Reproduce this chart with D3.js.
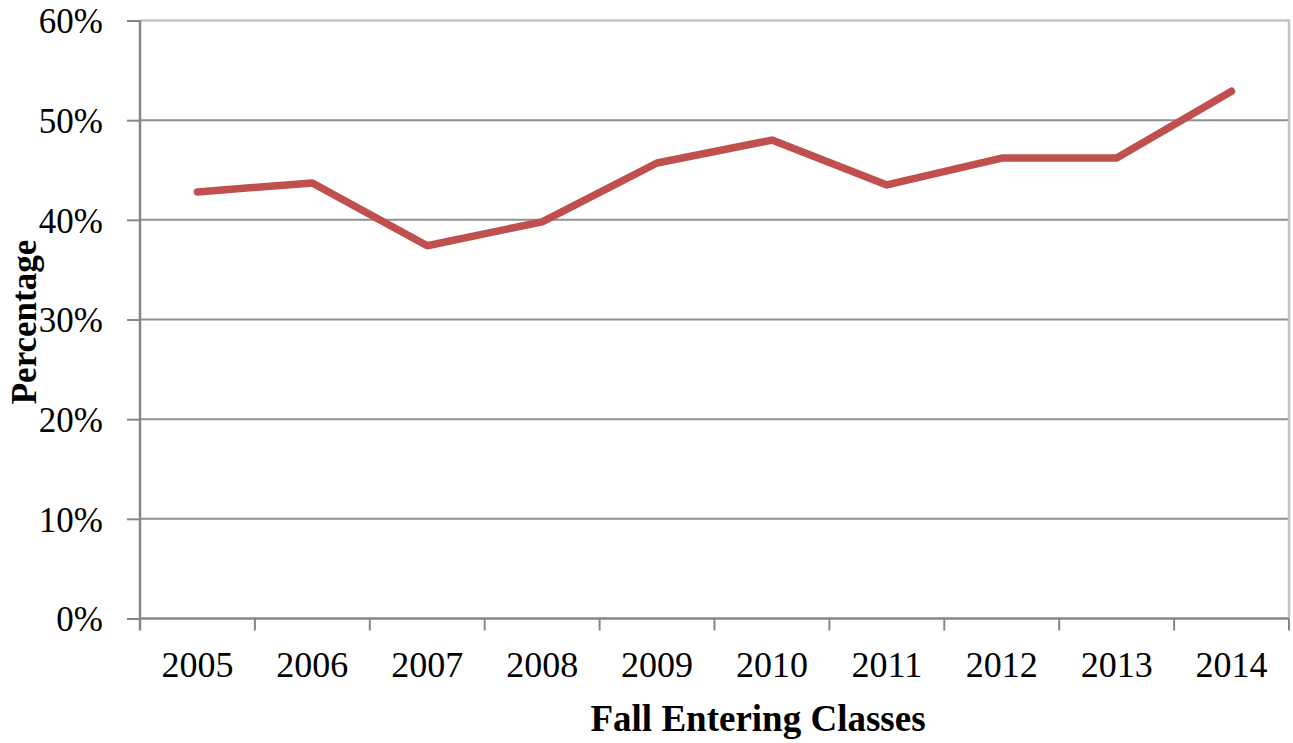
<!DOCTYPE html>
<html>
<head>
<meta charset="utf-8">
<script src="https://cdn.jsdelivr.net/npm/d3@7"></script>
<style>
  body { margin: 0; background: #fff; }
  svg text { font-family: "Liberation Serif", "Times New Roman", serif; fill: #000; }
</style>
</head>
<body>
<div id="chart"></div>
<script>
// data
var years = ["2005", "2006", "2007", "2008", "2009", "2010", "2011", "2012", "2013", "2014"];
var pct = [42.8, 43.7, 37.4, 39.8, 45.7, 48.0, 43.5, 46.2, 46.2, 52.9];
var yTicks = [0, 10, 20, 30, 40, 50, 60];

var canvas_width = 1293, canvas_height = 743;
var plotLeft = 140, plotRight = 1289, plotTop = 20.5, plotBottom = 618.5;

var svg = d3.select("#chart")
    .append("svg")
    .attr("width", canvas_width)
    .attr("height", canvas_height);

var x = d3.scaleBand().domain(years).range([plotLeft, plotRight]);
var y = d3.scaleLinear().domain([0, 60]).range([plotBottom, plotTop]);

// gridlines
svg.append("g")
    .selectAll("line")
    .data(yTicks.filter(function(d) { return d > 0 && d < 60; }))
    .enter().append("line")
        .attr("x1", plotLeft).attr("x2", plotRight)
        .attr("y1", function(d) { return y(d); })
        .attr("y2", function(d) { return y(d); })
        .attr("stroke", "#8f8f8f")
        .attr("stroke-width", 2);

// plot border (top + right), lighter
svg.append("path")
    .attr("d", "M" + plotLeft + "," + y(60) + "H" + plotRight + "V" + plotBottom)
    .attr("fill", "none")
    .attr("stroke", "#c4c4c4")
    .attr("stroke-width", 2.5);

// y axis
var yAxis = svg.append("g")
    .attr("transform", "translate(" + plotLeft + ",0)")
    .call(d3.axisLeft(y).tickValues(yTicks).tickSize(13).tickPadding(24)
        .tickFormat(function(d) { return d + "%"; }));
yAxis.select(".domain").remove();
yAxis.selectAll(".tick line").attr("stroke", "#868686").attr("stroke-width", 2);
yAxis.selectAll("text")
    .attr("font-size", "35px")
    .attr("dy", "0.35em")
    .style("font-family", "'Liberation Serif', 'Times New Roman', serif");

// y axis line, runs down to tick length
svg.append("line")
    .attr("x1", plotLeft).attr("x2", plotLeft)
    .attr("y1", plotTop).attr("y2", plotBottom + 12)
    .attr("stroke", "#868686")
    .attr("stroke-width", 2.5);

// x axis
var xAxis = svg.append("g")
    .attr("transform", "translate(0," + plotBottom + ")")
    .call(d3.axisBottom(x).tickSize(0).tickPadding(33));
xAxis.select(".domain").remove();
xAxis.selectAll("text")
    .attr("font-size", "36px")
    .style("font-family", "'Liberation Serif', 'Times New Roman', serif");

svg.append("line")
    .attr("x1", plotLeft).attr("x2", plotRight)
    .attr("y1", plotBottom).attr("y2", plotBottom)
    .attr("stroke", "#868686")
    .attr("stroke-width", 2.5);

// ticks between categories
var bounds = years.slice(1).map(function(d) { return x(d); }).concat([x.range()[1]]);
svg.append("g")
    .selectAll("line")
    .data(bounds)
    .enter().append("line")
        .attr("x1", function(d) { return d; })
        .attr("x2", function(d) { return d; })
        .attr("y1", plotBottom)
        .attr("y2", plotBottom + 12)
        .attr("stroke", "#868686")
        .attr("stroke-width", 2);

// the line
var line = d3.line()
    .x(function(d, i) { return x(years[i]) + x.bandwidth() / 2; })
    .y(function(d) { return y(d); });

svg.append("path")
    .datum(pct)
    .attr("d", line)
    .attr("fill", "none")
    .attr("stroke", "#C0504D")
    .attr("stroke-width", 7.5)
    .attr("stroke-linejoin", "round")
    .attr("stroke-linecap", "round");

// axis titles
svg.append("text")
    .attr("x", 758)
    .attr("y", 731)
    .attr("text-anchor", "middle")
    .attr("font-size", "37px")
    .attr("font-weight", "bold")
    .text("Fall Entering Classes");

svg.append("text")
    .attr("transform", "translate(36," + 322 + ") rotate(-90)")
    .attr("text-anchor", "middle")
    .attr("font-size", "35px")
    .attr("font-weight", "bold")
    .text("Percentage");
</script>
</body>
</html>
